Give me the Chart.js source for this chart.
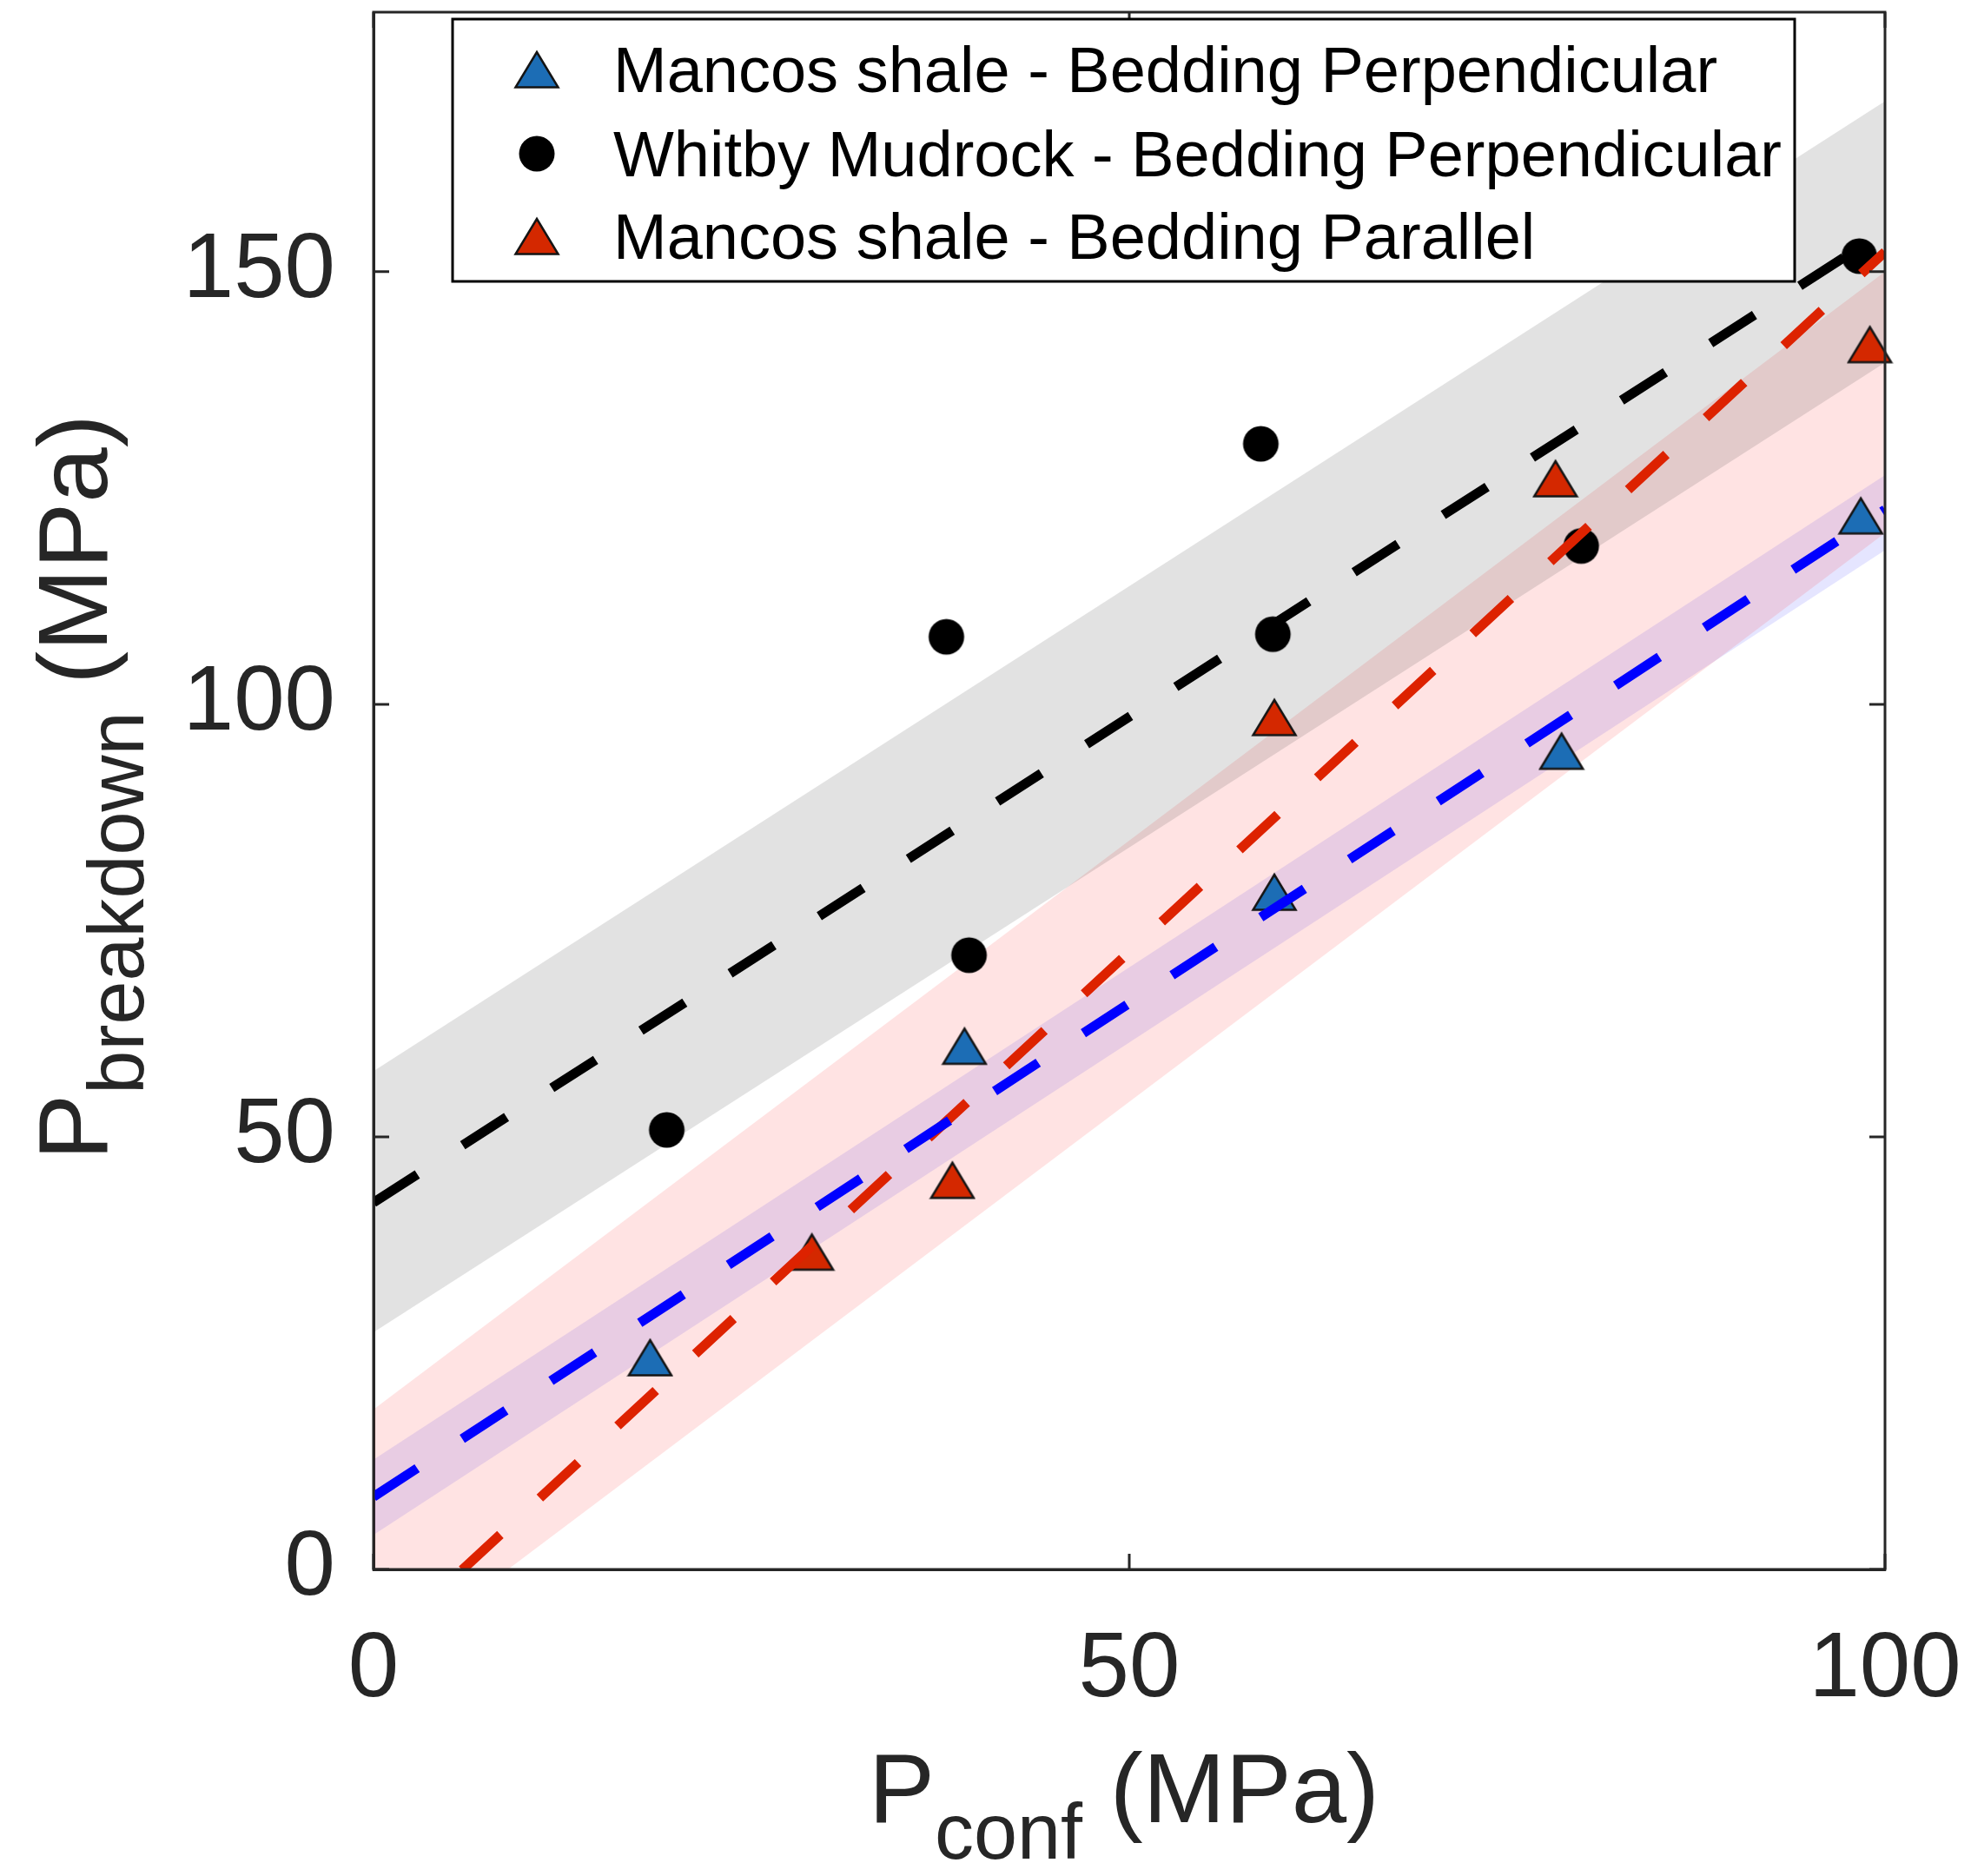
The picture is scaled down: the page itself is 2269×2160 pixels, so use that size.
<!DOCTYPE html>
<html>
<head>
<meta charset="utf-8">
<script src="https://cdn.jsdelivr.net/npm/chart.js@4.4.1/dist/chart.umd.min.js"></script>
<style>
  body { margin: 0; background: #fff; }
  #grafica { display: block; }
</style>
</head>
<body>
<canvas id="grafica" width="2269" height="2160"></canvas>
<script>
// Confining pressure (x) vs breakdown pressure (y), MPa
const mancosPerpX = [18.3, 39.1, 59.6, 78.6, 98.4];
const mancosPerpY = [24.5, 60.5, 78.3, 94.6, 121.8];
const whitbyX = [19.4, 37.9, 39.4, 58.7, 59.5, 79.9, 98.3];
const whitbyY = [50.8, 107.8, 71.0, 130.1, 108.1, 118.3, 151.8];
const mancosParX = [29.0, 38.3, 59.6, 78.2, 99.0];
const mancosParY = [36.7, 45.0, 98.5, 126.1, 141.6];

// linear fits, evaluated at both ends of the x range
const fitX = [0, 100];
const mancosPerpFit = [8.4, 122.5];
const whitbyFit = [42.4, 154.7];
const mancosParFit = [-9.55, 152.3];

// shaded bands: lower and upper edge at the same x
const whitbyBandLo = [27.4, 139.5];
const whitbyBandHi = [57.6, 169.7];
const mancosParBandLo = [-11.7, 119.8];
const mancosParBandHi = [18.5, 150.0];
const mancosPerpBandLo = [4.0, 117.8];
const mancosPerpBandHi = [12.7, 126.5];

const xTicks = [0, 50, 100];
const yTicks = [0, 50, 100, 150];

const etiquetas = [
    'Mancos shale - Bedding Perpendicular',
    'Whitby Mudrock - Bedding Perpendicular',
    'Mancos shale - Bedding Parallel'
];

const FUENTE = "'Liberation Sans', Arial, Helvetica, sans-serif";
const GRIS_EJE = '#262626';

const pts = (xs, ys) => xs.map((x, i) => ({ x: x, y: ys[i] }));

// triangle marker centred on its bounding box
function triangulo(relleno) {
    const c = document.createElement('canvas');
    c.width = 54;
    c.height = 46;
    const g = c.getContext('2d');
    g.beginPath();
    g.moveTo(27, 3);
    g.lineTo(51.5, 43.5);
    g.lineTo(2.5, 43.5);
    g.closePath();
    g.fillStyle = relleno;
    g.fill();
    g.lineWidth = 2.5;
    g.strokeStyle = '#141414';
    g.stroke();
    return c;
}

function circulo() {
    const c = document.createElement('canvas');
    c.width = 44;
    c.height = 44;
    const g = c.getContext('2d');
    g.beginPath();
    g.arc(22, 22, 20.5, 0, Math.PI * 2);
    g.fillStyle = '#000';
    g.fill();
    return c;
}

const triAzul = triangulo('#1c6db5');
const triRojo = triangulo('#d42800');
const punto = circulo();
const marcadores = [triAzul, punto, triRojo];

function banda(xs, ys, color, relleno) {
    return {
        data: pts(xs, ys),
        showLine: true,
        borderWidth: 0,
        borderColor: 'rgba(0,0,0,0)',
        pointRadius: 0,
        backgroundColor: color,
        fill: relleno,
        clip: 0,
        order: 30
    };
}

function ajuste(ys, color, offset, orden) {
    return {
        data: pts(fitX, ys),
        showLine: true,
        borderColor: color,
        borderWidth: 11,
        borderDash: [60, 62],
        borderDashOffset: offset,
        borderCapStyle: 'butt',
        pointRadius: 0,
        fill: false,
        clip: 0,
        order: orden
    };
}

function muestras(xs, ys, estilo, etiqueta) {
    return {
        label: etiqueta,
        data: pts(xs, ys),
        pointStyle: estilo,
        pointRadius: 25,
        showLine: false,
        clip: false,
        order: 20
    };
}

// frame, inward ticks, axis titles and legend box
const marco = {
    id: 'marco',
    afterDraw(chart) {
        const ctx = chart.ctx;
        const a = chart.chartArea;
        const sx = chart.scales.x;
        const sy = chart.scales.y;
        ctx.save();

        ctx.strokeStyle = GRIS_EJE;
        ctx.lineWidth = 3;
        ctx.strokeRect(a.left, a.top, a.right - a.left, a.bottom - a.top);

        const tl = 18;
        ctx.beginPath();
        xTicks.forEach(v => {
            const px = sx.getPixelForValue(v);
            ctx.moveTo(px, a.bottom); ctx.lineTo(px, a.bottom - tl);
            ctx.moveTo(px, a.top); ctx.lineTo(px, a.top + tl);
        });
        yTicks.forEach(v => {
            const py = sy.getPixelForValue(v);
            ctx.moveTo(a.left, py); ctx.lineTo(a.left + tl, py);
            ctx.moveTo(a.right, py); ctx.lineTo(a.right - tl, py);
        });
        ctx.stroke();

        // axis titles with subscripts
        const tam = 114, tamSub = 90, bajada = 42;
        ctx.fillStyle = GRIS_EJE;
        ctx.textBaseline = 'alphabetic';
        ctx.textAlign = 'left';

        function titulo(sub, cx, base) {
            ctx.font = tam + 'px ' + FUENTE;
            const wP = ctx.measureText('P').width;
            const wR = ctx.measureText(' (MPa)').width;
            ctx.font = tamSub + 'px ' + FUENTE;
            const wS = ctx.measureText(sub).width;
            let x0 = cx - (wP + wS + wR) / 2;
            ctx.font = tam + 'px ' + FUENTE;
            ctx.fillText('P', x0, base);
            x0 += wP;
            ctx.font = tamSub + 'px ' + FUENTE;
            ctx.fillText(sub, x0, base + bajada);
            x0 += wS;
            ctx.font = tam + 'px ' + FUENTE;
            ctx.fillText(' (MPa)', x0, base);
        }

        titulo('conf', (a.left + a.right) / 2 - 6, 2098);

        ctx.save();
        ctx.translate(123, (a.top + a.bottom) / 2 - 4);
        ctx.rotate(-Math.PI / 2);
        titulo('breakdown', 0, 0);
        ctx.restore();

        // legend
        const lx = 521, ly = 22, lw = 1545, lh = 302;
        ctx.fillStyle = '#fff';
        ctx.fillRect(lx, ly, lw, lh);
        ctx.strokeStyle = '#000';
        ctx.lineWidth = 3;
        ctx.strokeRect(lx, ly, lw, lh);

        const filas = [80, 177, 272];
        ctx.font = '74px ' + FUENTE;
        ctx.fillStyle = '#000';
        etiquetas.forEach((t, i) => {
            const m = marcadores[i];
            ctx.drawImage(m, 618 - m.width / 2, filas[i] - m.height / 2);
            ctx.fillText(t, 706, filas[i] + 26);
        });

        ctx.restore();
    }
};

// fixed axis sizes so the plot box stays put
function sinMargen(s) {
    s.paddingTop = 0;
    s.paddingBottom = 0;
    s.paddingLeft = 0;
    s.paddingRight = 0;
}

new Chart(document.getElementById('grafica'), {
    type: 'scatter',
    data: {
        datasets: [
            banda(fitX, whitbyBandHi, 'rgba(0,0,0,0.115)', '+1'),
            banda(fitX, whitbyBandLo, 'rgba(0,0,0,0)', false),
            banda(fitX, mancosParBandHi, 'rgba(255,0,0,0.11)', '+1'),
            banda(fitX, mancosParBandLo, 'rgba(0,0,0,0)', false),
            banda(fitX, mancosPerpBandHi, 'rgba(0,0,255,0.1)', '+1'),
            banda(fitX, mancosPerpBandLo, 'rgba(0,0,0,0)', false),
            muestras(mancosPerpX, mancosPerpY, triAzul, etiquetas[0]),
            muestras(whitbyX, whitbyY, punto, etiquetas[1]),
            muestras(mancosParX, mancosParY, triRojo, etiquetas[2]),
            ajuste(mancosParFit, '#dd2200', 105, 12),
            ajuste(whitbyFit, '#000000', 0, 11),
            ajuste(mancosPerpFit, '#0000ff', 0, 10)
        ]
    },
    options: {
        responsive: false,
        animation: false,
        layout: {
            autoPadding: false,
            padding: { top: 14, right: 99, left: 0, bottom: 0 }
        },
        plugins: {
            legend: { display: false },
            tooltip: { enabled: false }
        },
        scales: {
            x: {
                type: 'linear',
                min: 0,
                max: 100,
                grid: { display: false },
                border: { display: true, color: GRIS_EJE, width: 3 },
                ticks: {
                    color: GRIS_EJE,
                    padding: 46,
                    maxRotation: 0,
                    font: { family: FUENTE, size: 105 }
                },
                afterBuildTicks: s => { s.ticks = xTicks.map(v => ({ value: v })); },
                afterFit: s => { s.height = 353; sinMargen(s); }
            },
            y: {
                type: 'linear',
                min: 0,
                max: 180,
                grid: { display: false },
                border: { display: true, color: GRIS_EJE, width: 3 },
                ticks: {
                    color: GRIS_EJE,
                    padding: 36,
                    font: { family: FUENTE, size: 105 }
                },
                afterBuildTicks: s => { s.ticks = yTicks.map(v => ({ value: v })); },
                afterFit: s => { s.width = 430; sinMargen(s); }
            }
        }
    },
    plugins: [marco]
});
</script>
</body>
</html>
